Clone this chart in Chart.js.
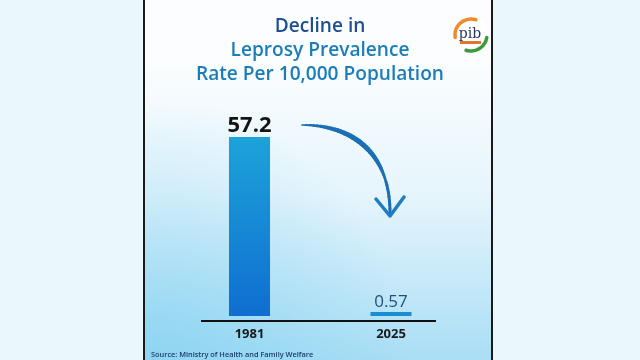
<!DOCTYPE html>
<html>
<head>
<meta charset="utf-8">
<script src="https://cdn.jsdelivr.net/npm/chart.js@4/dist/chart.umd.min.js"></script>
<style>
html,body{margin:0;padding:0;background:#eaf8fd;}
#wrap{width:640px;height:360px;position:relative;}
</style>
</head>
<body>
<div id="wrap"><canvas id="c" width="640" height="360"></canvas></div>
<script>
const categories = ["1981", "2025"];
const prevalence = [57.2, 0.57];
const valueLabels = ["57.2", "0.57"];
const titleLines = ["Decline in", "Leprosy Prevalence", "Rate Per 10,000 Population"];
const sourceText = "Source: Ministry of Health and Family Welfare";

function bez(t, p0, p1, p2, p3) {
  const u = 1 - t;
  return u*u*u*p0 + 3*u*u*t*p1 + 3*u*t*t*p2 + t*t*t*p3;
}

const deco = {
  id: 'deco',
  beforeDraw(chart) {
    const ctx = chart.ctx;
    ctx.save();
    ctx.fillStyle = '#eaf8fd';
    ctx.fillRect(0, 0, 640, 360);
    const g = ctx.createLinearGradient(0, 60, 0, 360);
    g.addColorStop(0, '#fbfdfe');
    g.addColorStop(0.45, '#e6f5fc');
    g.addColorStop(1, '#a9def5');
    ctx.fillStyle = g;
    ctx.fillRect(145, 0, 347, 360);
    const g2 = ctx.createRadialGradient(150, 360, 10, 150, 360, 260);
    g2.addColorStop(0, 'rgba(120,205,240,0.55)');
    g2.addColorStop(1, 'rgba(120,205,240,0)');
    ctx.fillStyle = g2;
    ctx.fillRect(145, 0, 347, 360);
    ctx.fillStyle = '#1a1a1a';
    ctx.fillRect(143, 0, 2, 360);
    ctx.fillRect(491, 0, 2, 360);
    ctx.restore();
  },
  afterDatasetsDraw(chart) {
    const ctx = chart.ctx;
    const meta = chart.getDatasetMeta(0);
    const yZero = chart.scales.y.getPixelForValue(0);
    ctx.save();
    ctx.fillStyle = '#111';
    ctx.fillRect(201, yZero + 4, 235, 2);
    ctx.textAlign = 'center';
    ctx.textBaseline = 'alphabetic';
    meta.data.forEach((bar, i) => {
      if (i === 0) {
        ctx.font = 'bold 22px "Open Sans", sans-serif';
        ctx.fillStyle = '#141414';
        ctx.fillText(valueLabels[i], bar.x, bar.y - 5);
      } else {
        ctx.font = '17px "Open Sans", sans-serif';
        ctx.fillStyle = '#1d4f80';
        ctx.fillText(valueLabels[i], bar.x, bar.y - 5);
      }
    });
    ctx.font = '600 20px "Open Sans", sans-serif';
    const w = ctx.measureText(titleLines[2]).width;
    const fs = 20 * 248 / w;
    ctx.font = '600 ' + fs.toFixed(2) + 'px "Open Sans", sans-serif';
    ctx.textBaseline = 'middle';
    ctx.fillStyle = '#1f4f93';
    ctx.fillText(titleLines[0], 320, 27);
    ctx.fillStyle = '#1b7db8';
    ctx.fillText(titleLines[1], 320, 51);
    ctx.fillText(titleLines[2], 320, 75);
    ctx.font = '9px "Open Sans", sans-serif';
    const sw = ctx.measureText(sourceText).width;
    ctx.font = '600 ' + (9 * 162 / sw).toFixed(2) + 'px "Open Sans", sans-serif';
    const sw2 = ctx.measureText(sourceText).width;
    ctx.font = '600 ' + (9 * 162 / sw * 162 / sw2).toFixed(2) + 'px "Open Sans", sans-serif';
    ctx.textAlign = 'left';
    ctx.fillStyle = '#1b3c6b';
    ctx.fillText(sourceText, 151, 355);
    // tapered arrow
    ctx.strokeStyle = '#1c6fb4';
    ctx.lineCap = 'round';
    ctx.lineJoin = 'round';
    const P = [[302,125],[355,125],[390,155],[390,213]];
    const N = 40;
    for (let k = 0; k < N; k++) {
      const t0 = k / N, t1 = (k + 1) / N;
      const tm = (t0 + t1) / 2;
      ctx.lineWidth = 1.5 + 3.5 * Math.sin(Math.PI * Math.min(1, tm * 1.15));
      if (tm > 0.8) ctx.lineWidth = Math.max(ctx.lineWidth, 3);
      ctx.beginPath();
      ctx.moveTo(bez(t0, P[0][0], P[1][0], P[2][0], P[3][0]), bez(t0, P[0][1], P[1][1], P[2][1], P[3][1]));
      ctx.lineTo(bez(t1, P[0][0], P[1][0], P[2][0], P[3][0]), bez(t1, P[0][1], P[1][1], P[2][1], P[3][1]));
      ctx.stroke();
    }
    ctx.lineWidth = 3.5;
    ctx.strokeStyle = '#1e7cc0';
    ctx.beginPath();
    ctx.moveTo(376, 199);
    ctx.lineTo(390, 216);
    ctx.lineTo(404, 197);
    ctx.stroke();
    // logo
    const cx = 471, cy = 35, r = 18;
    ctx.fillStyle = '#ffffff';
    ctx.beginPath(); ctx.arc(cx, cy, r, 0, Math.PI * 2); ctx.fill();
    ctx.lineWidth = 3.5;
    ctx.strokeStyle = '#f08a2a';
    ctx.beginPath(); ctx.arc(cx, cy, r - 2, Math.PI * 0.95, Math.PI * 1.6); ctx.stroke();
    ctx.strokeStyle = '#3c9a3a';
    ctx.beginPath(); ctx.arc(cx, cy, r - 2, Math.PI * 0.05, Math.PI * 0.6); ctx.stroke();
    ctx.fillStyle = '#2a3566';
    ctx.font = '14px "DejaVu Serif", serif';
    ctx.textAlign = 'center';
    ctx.textBaseline = 'alphabetic';
    ctx.fillText('pib', cx - 1, cy + 3);
    ctx.fillStyle = '#e2762a';
    ctx.fillRect(cx - 11, cy + 6, 21, 3);
    ctx.restore();
  }
};

new Chart(document.getElementById('c'), {
  type: 'bar',
  data: {
    labels: categories,
    datasets: [{
      data: prevalence,
      backgroundColor(ctx) {
        const ca = ctx.chart.chartArea;
        if (!ca) return '#1688d4';
        if (ctx.dataIndex === 1) return '#1a8ed0';
        const g = ctx.chart.ctx.createLinearGradient(0, ca.top, 0, ca.bottom);
        g.addColorStop(0, '#1ea5da');
        g.addColorStop(1, '#0f6ed0');
        return g;
      },
      borderWidth: 0,
      barPercentage: 0.29,
      categoryPercentage: 1,
      minBarLength: 4
    }]
  },
  options: {
    responsive: false,
    animation: false,
    layout: { padding: { left: 178.75, right: 178.25, top: 128.2, bottom: 18 } },
    plugins: { legend: { display: false }, tooltip: { enabled: false }, title: { display: false } },
    scales: {
      x: {
        grid: { display: false, drawTicks: false },
        border: { display: false },
        ticks: { color: '#1a1a1a', padding: 10, font: { family: '"Open Sans", sans-serif', size: 13, weight: 'bold' } },
        afterFit(s) { s.height = 26; }
      },
      y: { display: false, min: 0, max: 60 }
    }
  },
  plugins: [deco]
});
</script>
</body>
</html>
